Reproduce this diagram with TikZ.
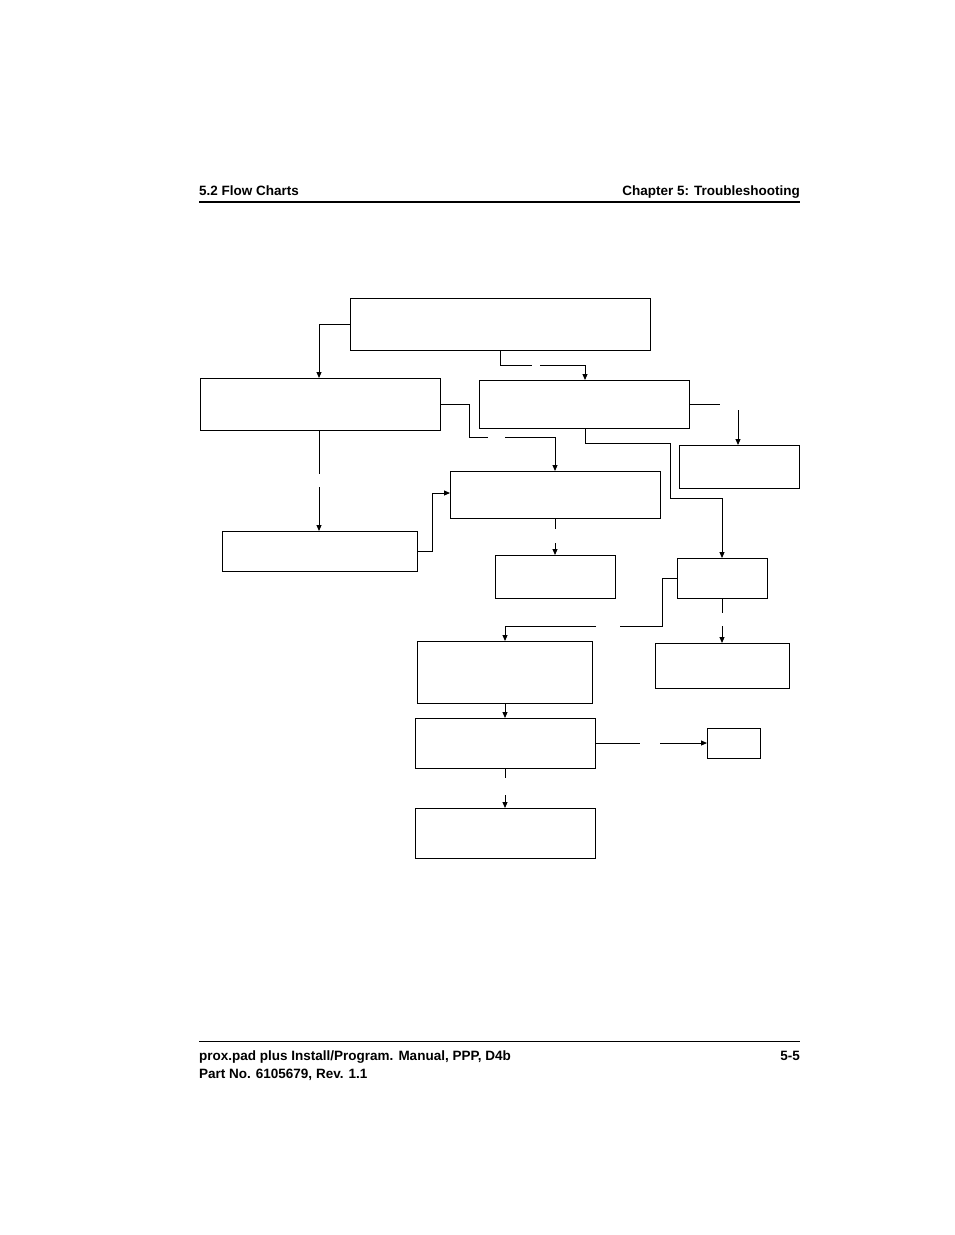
\documentclass[tikz,border=0pt]{standalone}
\usepackage{fontspec}
\setmainfont{Liberation Sans}
\usetikzlibrary{arrows.meta}

\tikzset{
  box/.style={draw,line width=1pt,inner sep=0pt},
  link/.style={line width=0.9pt},
  arr/.style={link,-{Triangle[length=6pt,width=5pt]}},
  hdr/.style={font=\bfseries\fontsize{13.5}{16}\selectfont,inner sep=0pt}
}
\newcommand{\boxat}[5]{\node (#1) [box,minimum width=#4pt,minimum height=#5pt,anchor=north west] at (#2,#3) {};}

\begin{document}
\begin{tikzpicture}[x=1pt,y=-1pt]
  \useasboundingbox (0,0) rectangle (954,1235);

  % header and footer
  \node (H1) [hdr,anchor=base west] at (199,195) {5.2 Flow Charts};
  \node (H2) [hdr,anchor=base east] at (800,195) {Chapter 5: Troubleshooting};
  \draw[line width=1.5pt] (199,202) -- (800,202);
  \draw[line width=0.8pt] (199,1041) -- (800,1041);
  \node (F1) [hdr,anchor=base west] at (199,1060) {prox.pad plus Install/Program. Manual, PPP, D4b};
  \node (F2) [hdr,anchor=base west] at (199,1078) {Part No. 6105679, Rev. 1.1};
  \node (F3) [hdr,anchor=base east] at (800,1060) {5-5};

  % boxes
  \boxat{A}{350}{298}{300}{52}
  \boxat{B}{200}{378}{240}{52}
  \boxat{C}{479}{380}{210}{48}
  \boxat{D}{679}{445}{120}{43}
  \boxat{E}{450}{471}{210}{47}
  \boxat{F}{222}{531}{195}{40}
  \boxat{G}{495}{555}{120}{43}
  \boxat{H}{677}{558}{90}{40}
  \boxat{I}{417}{641}{175}{62}
  \boxat{J}{655}{643}{134}{45}
  \boxat{K}{415}{718}{180}{50}
  \boxat{L}{707}{728}{53}{30}
  \boxat{M}{415}{808}{180}{50}

  % connectors (gaps left where labels were)
  \draw[arr] (A.west |- 0,324) -| (B.north -| 319,0);
  \draw[link] (A.south -| 500,0) |- (532,365);
  \draw[arr] (540,365) -| (C.north -| 585,0);
  \draw[link] (B.east |- 0,404) -| (469,437) -- (488,437);
  \draw[arr] (505,437) -| (E.north -| 555,0);
  \draw[link] (C.east |- 0,404) -- (720,404);
  \draw[arr] (738,410) -- (D.north -| 738,0);
  \draw[arr] (C.south -| 585,0) |- (670,443) |- (722,498) -- (H.north -| 722,0);
  \draw[link] (B.south -| 319,0) -- (319,474);
  \draw[arr] (319,487) -- (F.north -| 319,0);
  \draw[arr] (F.east |- 0,551) -| (432,493) -- (E.west |- 0,493);
  \draw[link] (E.south -| 555,0) -- (555,529);
  \draw[arr] (555,543) -- (G.north -| 555,0);
  \draw[link] (H.west |- 0,578) -| (662,626) -- (620,626);
  \draw[arr] (596,626) -| (I.north -| 505,0);
  \draw[link] (H.south -| 722,0) -- (722,613);
  \draw[arr] (722,626) -- (J.north -| 722,0);
  \draw[arr] (I.south -| 505,0) -- (K.north -| 505,0);
  \draw[link] (K.east |- 0,743) -- (640,743);
  \draw[arr] (660,743) -- (L.west |- 0,743);
  \draw[link] (K.south -| 505,0) -- (505,778);
  \draw[arr] (505,795) -- (M.north -| 505,0);
\end{tikzpicture}
\end{document}
